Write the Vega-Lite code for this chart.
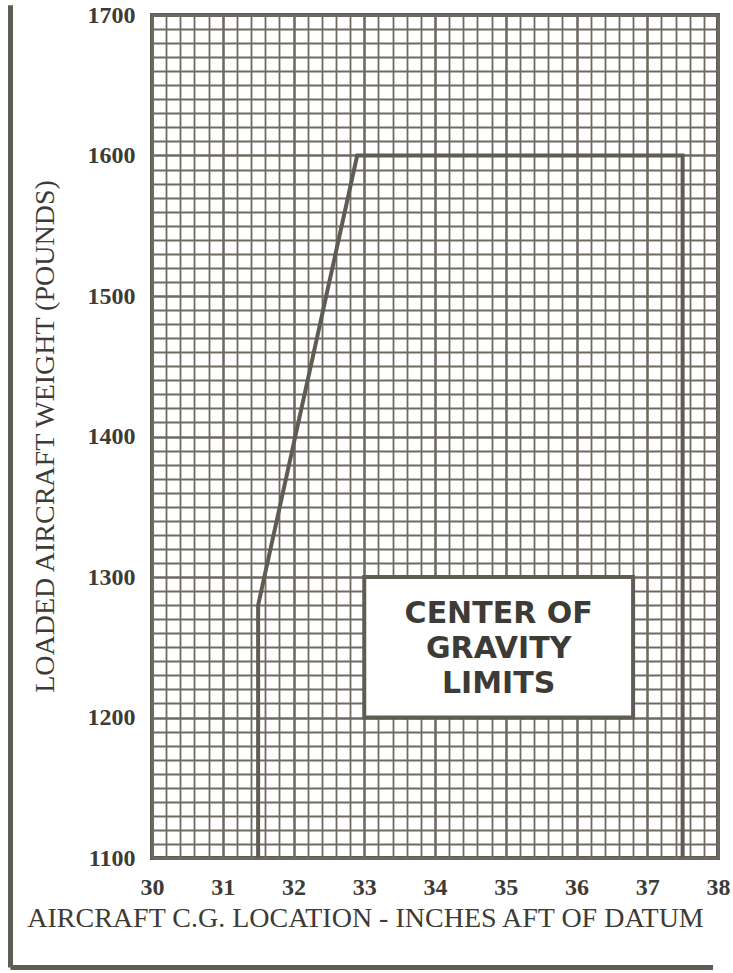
{
  "$schema": "https://vega.github.io/schema/vega-lite/v6.json",
  "width": 566,
  "height": 843,
  "autosize": {"type": "none"},
  "padding": {"left": 152, "top": 15, "right": 15, "bottom": 115},
  "background": "white",
  "config": {
    "view": {"stroke": "#5f5c54", "strokeWidth": 4},
    "axis": {
      "labelFont": "Liberation Serif",
      "labelColor": "#3d3b35",
      "labelFontWeight": "bold",
      "titleFont": "Liberation Serif",
      "titleColor": "#3d3b35",
      "titleFontWeight": "normal",
      "gridColor": "#6e6b62",
      "gridOpacity": 1,
      "domain": false,
      "ticks": false,
      "labelOverlap": false,
      "labelFlush": false,
      "tickCount": 200
    }
  },
  "datasets": {
    "envelope": [
      {"order": 1, "cg": 31.5, "weight": 1100},
      {"order": 2, "cg": 31.5, "weight": 1280},
      {"order": 3, "cg": 32.9, "weight": 1600},
      {"order": 4, "cg": 37.5, "weight": 1600},
      {"order": 5, "cg": 37.5, "weight": 1100}
    ],
    "box": [{"x1": 33.0, "x2": 36.8, "y1": 1200, "y2": 1300}],
    "label": [
      {"cg": 34.9, "weight": 1274, "text": "CENTER OF"},
      {"cg": 34.9, "weight": 1249, "text": "GRAVITY"},
      {"cg": 34.9, "weight": 1224, "text": "LIMITS"}
    ],
    "frame": [
      {"xa": 28.0, "xb": 28.0, "ya": 1022, "yb": 1707},
      {"xa": 28.0, "xb": 37.93, "ya": 1022, "yb": 1022}
    ]
  },
  "layer": [
    {
      "data": {"name": "box"},
      "mark": {"type": "rect", "fill": "white", "stroke": "#5f5c54", "strokeWidth": 4},
      "encoding": {
        "x": {
          "field": "x1", "type": "quantitative",
          "scale": {"domain": [30, 38], "nice": false, "zero": false},
          "axis": {
            "title": "AIRCRAFT C.G. LOCATION - INCHES AFT OF DATUM",
            "titleFontSize": 28,
            "titleX": 213,
            "titleY": 60,
            "titleAnchor": "middle",
            "titleBaseline": "middle",
            "labelFontSize": 24,
            "labelPadding": 17,
            "tickCount": 200,
            "values": [30,30.2,30.4,30.6,30.8,31,31.2,31.4,31.6,31.8,32,32.2,32.4,32.6,32.8,33,33.2,33.4,33.6,33.8,34,34.2,34.4,34.6,34.8,35,35.2,35.4,35.6,35.8,36,36.2,36.4,36.6,36.8,37,37.2,37.4,37.6,37.8,38],
            "labelExpr": "datum.value % 1 == 0 ? format(datum.value, 'd') : ''",
            "gridWidth": {"condition": {"test": "datum.value % 1 == 0", "value": 2.6}, "value": 1.8}
          }
        },
        "x2": {"field": "x2"},
        "y": {
          "field": "y1", "type": "quantitative",
          "scale": {"domain": [1100, 1700], "nice": false, "zero": false},
          "axis": {
            "title": "LOADED AIRCRAFT WEIGHT (POUNDS)",
            "titleFontSize": 28,
            "titleX": -107,
            "titleY": 421,
            "titleAnchor": "middle",
            "titleBaseline": "middle",
            "labelFontSize": 24,
            "labelPadding": 17,
            "format": "d",
            "tickCount": 200,
            "values": [1100,1110,1120,1130,1140,1150,1160,1170,1180,1190,1200,1210,1220,1230,1240,1250,1260,1270,1280,1290,1300,1310,1320,1330,1340,1350,1360,1370,1380,1390,1400,1410,1420,1430,1440,1450,1460,1470,1480,1490,1500,1510,1520,1530,1540,1550,1560,1570,1580,1590,1600,1610,1620,1630,1640,1650,1660,1670,1680,1690,1700],
            "labelExpr": "datum.value % 100 == 0 ? datum.label : ''",
            "gridWidth": {"condition": {"test": "datum.value % 100 == 0", "value": 2.6}, "value": 1.8}
          }
        },
        "y2": {"field": "y2"}
      }
    },
    {
      "data": {"name": "envelope"},
      "mark": {"type": "line", "color": "#5f5c54", "strokeWidth": 4, "strokeJoin": "miter"},
      "encoding": {
        "x": {"field": "cg", "type": "quantitative"},
        "y": {"field": "weight", "type": "quantitative"},
        "order": {"field": "order"}
      }
    },
    {
      "data": {"name": "label"},
      "mark": {"type": "text", "font": "DejaVu Sans", "fontSize": 30, "fontWeight": "bold", "color": "#3d3b35", "align": "center", "baseline": "middle"},
      "encoding": {
        "x": {"field": "cg", "type": "quantitative"},
        "y": {"field": "weight", "type": "quantitative"},
        "text": {"field": "text"}
      }
    },
    {
      "data": {"name": "frame"},
      "mark": {"type": "rule", "color": "#5f5c54", "strokeWidth": 5},
      "encoding": {
        "x": {"field": "xa", "type": "quantitative"},
        "x2": {"field": "xb"},
        "y": {"field": "ya", "type": "quantitative"},
        "y2": {"field": "yb"}
      }
    }
  ]
}
